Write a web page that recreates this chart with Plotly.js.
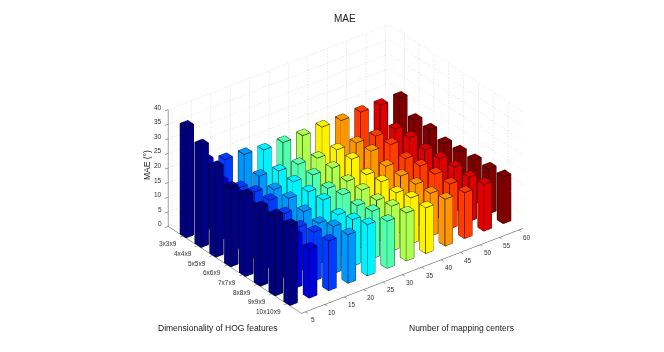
<!DOCTYPE html>
<html>
<head>
<meta charset="utf-8">
<script src="https://cdn.plot.ly/plotly-3.0.1.min.js"></script>
<style>html,body{margin:0;padding:0;background:#fff}#chart{width:664px;height:352px}</style>
</head>
<body>
<div id="chart"></div>
<script>
// Chart data
const centers = [5, 10, 15, 20, 25, 30, 35, 40, 45, 50, 55, 60];
const hogLabels = ['3x3x9', '4x4x9', '5x5x9', '6x6x9', '7x7x9', '8x8x9', '9x9x9', '10x10x9'];
const zTicks = [0, 5, 10, 15, 20, 25, 30, 35, 40];

// one list per HOG row, one value per mapping center
const mae3 = [37.9, 24.0, 21.7, 20.9, 19.9, 19.9, 19.7, 20.1, 19.8, 20.1, 19.9, 19.8];
const mae4 = [34.8, 20.0, 15.4, 16.8, 16.0, 15.7, 15.3, 15.6, 15.4, 15.2, 15.0, 15.6];
const mae5 = [30.7, 19.0, 17.2, 15.5, 15.6, 15.4, 15.2, 15.7, 15.9, 15.6, 15.4, 15.5];
const mae6 = [27.0, 18.0, 17.7, 15.8, 15.5, 14.1, 14.0, 13.7, 14.0, 14.1, 14.5, 14.2];
const mae7 = [27.7, 18.0, 16.4, 14.6, 16.0, 15.2, 14.3, 14.6, 14.0, 14.9, 14.9, 14.7];
const mae8 = [26.9, 18.0, 15.2, 13.9, 14.2, 14.8, 14.1, 14.1, 14.5, 15.4, 15.2, 15.0];
const mae9 = [27.4, 18.0, 16.7, 16.1, 15.9, 16.2, 15.4, 15.7, 14.7, 15.3, 15.1, 15.4];
const mae10 = [27.4, 16.8, 17.0, 16.6, 17.5, 16.1, 16.4, 15.6, 16.0, 15.7, 16.0, 16.1];
const maeRows = [mae3, mae4, mae5, mae6, mae7, mae8, mae9, mae10];

const barColors = ['#000080', '#0000DC', '#003BFF', '#0096FF', '#00F2FF', '#51FFAE',
    '#AEFF51', '#FFF200', '#FF9600', '#FF3B00', '#DC0000', '#800000'];

const BAR_X = 1.0;   // half bar width along x (data units)
const BAR_Y = 0.2;   // half bar width along y (rows)
const X_RANGE = [4, 61];
const Y_RANGE = [0, 9];
const Z_RANGE = [0, 40];
const EYE = 2;
const SCALE = 1.65;
const GRID = '#d2d2d2';

function barCorners(x, y, h) {
    const x0 = x - BAR_X, x1 = x + BAR_X, y0 = y - BAR_Y, y1 = y + BAR_Y;
    return [[x0, y0, 0], [x1, y0, 0], [x1, y1, 0], [x0, y1, 0],
            [x0, y0, h], [x1, y0, h], [x1, y1, h], [x0, y1, h]];
}

const boxFaces = [[0,1,2],[0,2,3],[4,5,6],[4,6,7],[0,1,5],[0,5,4],[1,2,6],[1,6,5],[2,3,7],[2,7,6],[3,0,4],[3,4,7]];
const boxEdges = [[4,5],[5,6],[6,7],[7,4],[0,4],[1,5],[2,6],[3,7],[0,1],[1,2],[2,3],[3,0]];

const traces = [];
const edgeX = [], edgeY = [], edgeZ = [];

centers.forEach((center, c) => {
    const mesh = {x: [], y: [], z: [], i: [], j: [], k: []};
    maeRows.forEach((row, r) => {
        const pts = barCorners(center, 8 - r, row[c]);
        const base = mesh.x.length;
        pts.forEach(p => { mesh.x.push(p[0]); mesh.y.push(p[1]); mesh.z.push(p[2]); });
        boxFaces.forEach(f => { mesh.i.push(base + f[0]); mesh.j.push(base + f[1]); mesh.k.push(base + f[2]); });
        boxEdges.forEach(e => {
            edgeX.push(pts[e[0]][0], pts[e[1]][0], null);
            edgeY.push(pts[e[0]][1], pts[e[1]][1], null);
            edgeZ.push(pts[e[0]][2], pts[e[1]][2], null);
        });
    });
    traces.push(Object.assign(mesh, {
        type: 'mesh3d',
        color: barColors[c],
        flatshading: true,
        lighting: {ambient: 1, diffuse: 0, specular: 0, roughness: 1, fresnel: 0},
        hoverinfo: 'skip',
        showscale: false
    }));
});

traces.push({
    type: 'scatter3d', mode: 'lines', x: edgeX, y: edgeY, z: edgeZ,
    line: {color: '#000000', width: 1.3}, hoverinfo: 'skip', showlegend: false
});

// Dotted grid on the two back walls and the floor, split in short pieces
const gridX = [], gridY = [], gridZ = [];
function gridLine(a, b, dots) {
    for (let n = 0; n < dots; n++) {
        const t0 = n / dots, t1 = (n + 0.45) / dots;
        gridX.push(a[0] + (b[0] - a[0]) * t0, a[0] + (b[0] - a[0]) * t1, null);
        gridY.push(a[1] + (b[1] - a[1]) * t0, a[1] + (b[1] - a[1]) * t1, null);
        gridZ.push(a[2] + (b[2] - a[2]) * t0, a[2] + (b[2] - a[2]) * t1, null);
    }
}
const xMin = X_RANGE[0], xMax = X_RANGE[1], yMax = Y_RANGE[1], zMax = Z_RANGE[1];
const DOTS_X = 80, DOTS_Y = 60, DOTS_Z = 40;
centers.forEach(x => {
    gridLine([x, yMax, 0], [x, yMax, zMax], DOTS_Z);
    gridLine([x, 0, 0], [x, yMax, 0], DOTS_Y);
});
hogLabels.forEach((label, r) => {
    gridLine([xMax, 8 - r, 0], [xMax, 8 - r, zMax], DOTS_Z);
    gridLine([xMin, 8 - r, 0], [xMax, 8 - r, 0], DOTS_X);
});
zTicks.forEach(z => {
    gridLine([xMin, yMax, z], [xMax, yMax, z], DOTS_X);
    gridLine([xMax, 0, z], [xMax, yMax, z], DOTS_Y);
});
traces.push({
    type: 'scatter3d', mode: 'lines', x: gridX, y: gridY, z: gridZ,
    line: {color: GRID, width: 1}, hoverinfo: 'skip', showlegend: false
});

const FONT = 'Liberation Sans, Arial, sans-serif';

function axisBase(range) {
    return {
        range: range,
        title: {text: ''},
        showgrid: false,
        zeroline: false,
        showbackground: false,
        showspikes: false,
        showline: true,
        linecolor: '#404040',
        linewidth: 1,
        ticks: 'outside',
        ticklen: 4,
        tickcolor: '#404040',
        showticklabels: false
    };
}

function tickNote(text, x, y, z, xanchor, xshift, yshift) {
    return {
        text: text, x: x, y: y, z: z, xanchor: xanchor, yanchor: 'middle',
        xshift: xshift, yshift: yshift, showarrow: false,
        font: {family: FONT, size: 6.5, color: '#303030'}
    };
}

// labels sit just inside the range edge, right on it they get dropped
const edgeLeft = xMin + 0.01;
const sceneNotes = [].concat(
    centers.map(x => tickNote(String(x), x, 0.01, 0, 'center', 8, -8)),
    hogLabels.map((label, r) => tickNote(label, edgeLeft, 8 - r, 0, 'right', -4, -8)),
    zTicks.map(z => tickNote(String(z), edgeLeft, yMax - 0.01, z, 'right', -4, 2.5))
);

const layout = {
    width: 664,
    height: 352,
    margin: {l: 0, r: 0, t: 0, b: 0},
    paper_bgcolor: '#ffffff',
    showlegend: false,
    scene: {
        domain: {x: [0.04, 1], y: [0.04, 1]},
        aspectmode: 'manual',
        aspectratio: {x: 1 * SCALE, y: 0.786 * SCALE, z: 0.484 * SCALE},
        camera: {
            projection: {type: 'orthographic'},
            up: {x: 0, y: 0, z: 1},
            center: {x: 0, y: 0, z: 0},
            eye: {x: -0.527 * EYE, y: -0.687 * EYE, z: 0.5 * EYE}
        },
        xaxis: Object.assign(axisBase(X_RANGE), {tickvals: centers}),
        yaxis: Object.assign(axisBase(Y_RANGE), {tickvals: hogLabels.map((label, r) => 8 - r)}),
        zaxis: Object.assign(axisBase(Z_RANGE), {tickvals: zTicks}),
        annotations: sceneNotes
    },
    annotations: [
        {text: 'MAE', x: 345, y: 18, size: 10},
        {text: 'Dimensionality of HOG features', x: 218, y: 328, size: 8.5},
        {text: 'Number of mapping centers', x: 461, y: 328, size: 8.5},
        {text: 'MAE (°)', x: 147, y: 165, size: 8.5, textangle: -90}
    ].map(a => ({
        text: a.text,
        xref: 'paper', yref: 'paper',
        x: a.x / 664, y: 1 - a.y / 352,
        xanchor: 'center', yanchor: 'middle',
        showarrow: false,
        textangle: a.textangle || 0,
        font: {family: FONT, size: a.size, color: '#202020'}
    }))
};

Plotly.newPlot('chart', traces, layout, {displayModeBar: false, responsive: false});
</script>
</body>
</html>
